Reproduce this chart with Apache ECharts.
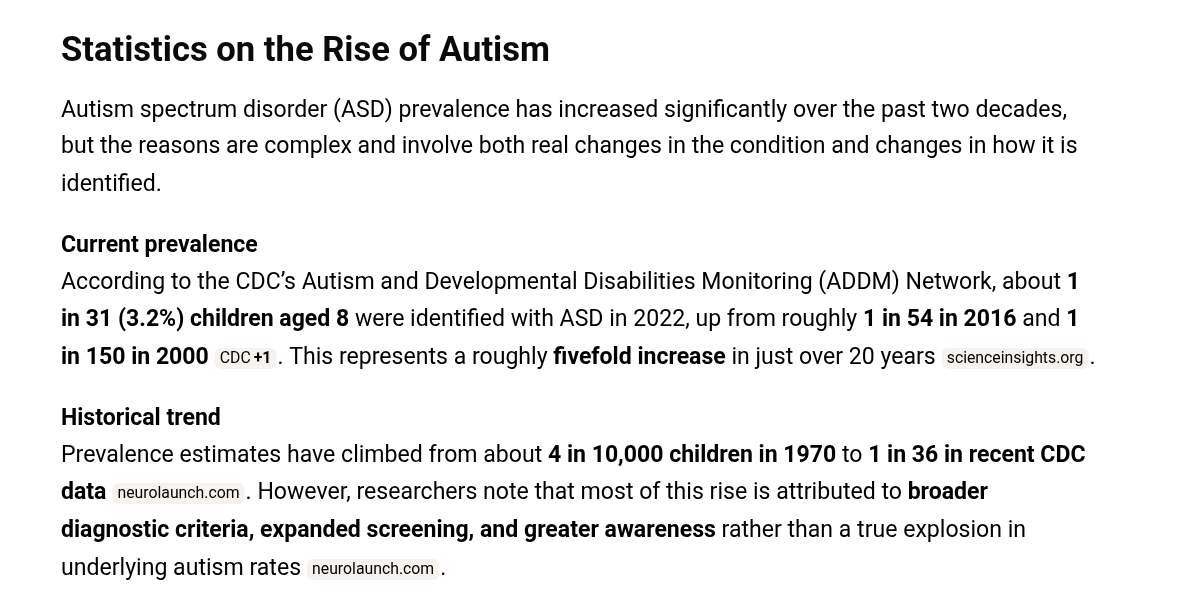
<!DOCTYPE html>
<html><head><meta charset="utf-8">
<style>html,body{margin:0;padding:0;background:#fff}#c{width:1200px;height:595px}</style>
<script src="https://cdn.jsdelivr.net/npm/echarts@6/dist/echarts.min.js"></script></head>
<body><div id="c"></div>
<script>
// n = normal, b = bold, h = section heading, s = source chip, c/t = chip with a count, w/g = gaps round a chip
const heading = "Statistics on the Rise of Autism";
const intro = [
  [["n","Autism spectrum disorder (ASD) prevalence has increased significantly over the past two decades,"]],
  [["n","but the reasons are complex and involve both real changes in the condition and changes in how it is"]],
  [["n","identified."]]
];
const prevalence = [
  [["h","Current prevalence"]],
  [["n","According to the CDC’s Autism and Developmental Disabilities Monitoring (ADDM) Network, about "],["b","1"]],
  [["b","in 31 (3.2%) children aged 8"],["n"," were identified with ASD in 2022, up from roughly "],["b","1 in 54 in 2016"],["n"," and "],["b","1"]],
  [["b","in 150 in 2000"],["w"," "],["c","CDC"],["t","+1"],["g"," "],["n",". This represents a roughly "],["b","fivefold increase"],["n"," in just over 20 years"],["w"," "],["s","scienceinsights.org"],["g"," "],["n","."]]
];
const trend = [
  [["h","Historical trend"]],
  [["n","Prevalence estimates have climbed from about "],["b","4 in 10,000 children in 1970"],["n"," to "],["b","1 in 36 in recent CDC"]],
  [["b","data"],["w"," "],["s","neurolaunch.com"],["g"," "],["n",". However, researchers note that most of this rise is attributed to "],["b","broader"]],
  [["b","diagnostic criteria, expanded screening, and greater awareness"],["n"," rather than a true explosion in"]],
  [["n","underlying autism rates"],["w"," "],["s","neurolaunch.com"],["g"," "],["n","."]]
];
const introY = [109,145,183];
const prevalenceY = [244,281,318,356];
const trendY = [417,454,491,529,567];

const F = "Roboto";
const chipBg = "#f6f2ee";
const rich = {
  n:{fontFamily:F,fontSize:23.09,color:"#111"},
  b:{fontFamily:F,fontSize:23.05,fontWeight:"bold",color:"#0a0a0a"},
  h:{fontFamily:F,fontSize:23.05,fontWeight:"bold",color:"#0a0a0a"},
  s:{fontFamily:F,fontSize:15.8,color:"#555",backgroundColor:chipBg,borderRadius:6,padding:[3,5,2,5]},
  c:{fontFamily:F,fontSize:15.8,color:"#555",backgroundColor:chipBg,borderRadius:[6,0,0,6],padding:[3,3,2,5]},
  t:{fontFamily:F,fontSize:15.8,fontWeight:"bold",color:"#555",backgroundColor:chipBg,borderRadius:[0,6,6,0],padding:[3,5,2,0]},
  w:{fontFamily:F,fontSize:23,width:6},
  g:{fontFamily:F,fontSize:23,width:1}
};
const toLine = (segs,y) => ({
  type:"text",left:61,top:y-9,silent:true,
  style:{rich,text:segs.map(([k,t])=>`{${k}|${t}}`).join("")}
});
const elements = [
  {type:"text",left:61,top:35,silent:true,style:{text:heading,fontFamily:F,fontSize:34.6,fontWeight:"bold",fill:"#0a0a0a"}},
  ...intro.map((l,i)=>toLine(l,introY[i])),
  ...prevalence.map((l,i)=>toLine(l,prevalenceY[i])),
  ...trend.map((l,i)=>toLine(l,trendY[i]))
];
const chart = echarts.init(document.getElementById("c"),null,{renderer:"canvas"});
chart.setOption({backgroundColor:"#fff",animation:false,graphic:{elements}});
</script></body></html>
